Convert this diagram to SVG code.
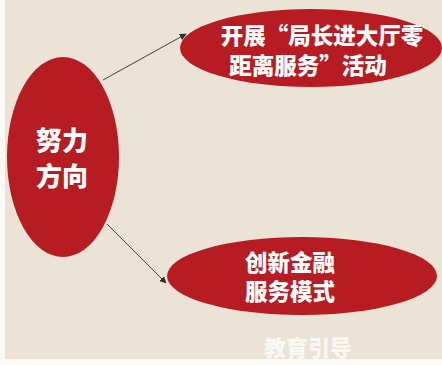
<svg xmlns="http://www.w3.org/2000/svg" width="442" height="365" viewBox="0 0 442 365">
<defs>
<style>
.node{fill:#b71c23}
.t{font-family:"Noto Sans CJK SC","Noto Sans",sans-serif;font-weight:900;fill:#ffffff}
.conn{stroke:#3f3f3a;stroke-width:1;fill:none;marker-end:url(#ah)}
</style>
<marker id="ah" viewBox="0 0 10 10" refX="9" refY="5" markerWidth="7" markerHeight="7" orient="auto" markerUnits="userSpaceOnUse">
<path d="M0,0 L10,5 L0,10 z" fill="#2f2f2a"/>
</marker>
</defs>
<rect x="0" y="0" width="442" height="365" fill="#fbfaf7"/>
<rect x="5" y="0" width="437" height="359" fill="#ebe3d6"/>
<g id="connectors">
<line class="conn" x1="103" y1="80" x2="186" y2="34"/>
<line class="conn" x1="107" y1="224" x2="166" y2="283"/>
</g>
<g id="center">
<ellipse class="node" cx="63" cy="157" rx="56" ry="100"/>
<text class="t" x="62" y="150" font-size="26" text-anchor="middle">努力</text>
<text class="t" x="62" y="186" font-size="26" text-anchor="middle">方向</text>
</g>
<g id="top">
<ellipse class="node" cx="311" cy="48" rx="131" ry="39"/>
<text class="t" x="322" y="44" font-size="22.5" text-anchor="middle">开展“局长进大厅零</text>
<text class="t" x="308" y="74" font-size="22.5" text-anchor="middle">距离服务”活动</text>
</g>
<g id="bottom">
<ellipse class="node" cx="302" cy="276" rx="135" ry="39"/>
<text class="t" x="290" y="271" font-size="22.5" text-anchor="middle">创新金融</text>
<text class="t" x="290" y="300" font-size="22.5" text-anchor="middle">服务模式</text>
</g>
<text class="t" x="308" y="356" font-size="22" text-anchor="middle" fill-opacity="0.75">教育引导</text>
</svg>
